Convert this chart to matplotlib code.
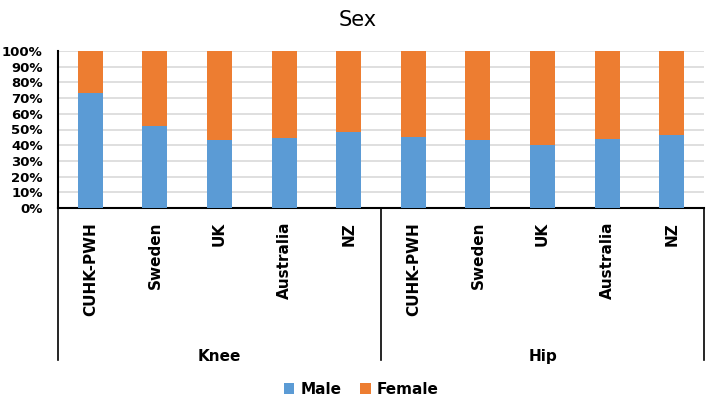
import numpy as np
import matplotlib.pyplot as plt
import matplotlib.transforms as mtransforms

# data
countries = ["CUHK-PWH", "Sweden", "UK", "Australia", "NZ",
             "CUHK-PWH", "Sweden", "UK", "Australia", "NZ"]
groups = ["Knee", "Hip"]
male = [73, 52, 43.5, 44.5, 48.5, 45, 43.5, 40, 44, 46.5]
female = [100 - m for m in male]

blue = "#5b9bd5"
orange = "#ed7d31"

fig = plt.figure(figsize=(7.08, 3.97), dpi=100)
ax = fig.add_axes([58 / 708, 1 - 208 / 397, (704 - 58) / 708, 157 / 397])

x = np.arange(len(countries))
ax.bar(x, male, width=0.39, color=blue, label="Male", zorder=3)
ax.bar(x, female, width=0.39, bottom=male, color=orange, label="Female", zorder=3)

ax.set_xlim(-0.5, len(countries) - 0.5)
ax.set_ylim(0, 100)
ax.set_yticks(np.arange(0, 101, 10))
ax.set_yticklabels([f"{v}%" for v in range(0, 101, 10)], fontsize=9.5, fontweight="bold")
ax.yaxis.grid(True, color="#d9d9d9", linewidth=1.2, zorder=0)
ax.tick_params(axis="y", length=0, pad=11)

ax.set_xticks(x)
ax.set_xticklabels(countries, rotation=90, fontsize=11, fontweight="bold", va="top")
ax.tick_params(axis="x", length=0, pad=10)

for s in ["top", "right"]:
    ax.spines[s].set_visible(False)
ax.spines["left"].set_color("black")
ax.spines["left"].set_linewidth(1.5)
ax.spines["bottom"].set_color("black")
ax.spines["bottom"].set_linewidth(1.5)

# group separators below the axis
trans = mtransforms.blended_transform_factory(ax.transData, ax.transAxes)
for xs in [-0.5, 4.5, 9.5]:
    ax.plot([xs, xs], [0, -0.968], color="black", linewidth=1.2,
            transform=trans, clip_on=False)
for i, g in enumerate(groups):
    ax.text(2 + 5 * i, -0.949, g, transform=trans, ha="center", va="center",
            fontsize=11, fontweight="bold")

fig.suptitle("Sex", x=0.505, y=0.975, fontsize=15)

ax.legend(loc="center", bbox_to_anchor=(0.51, 0.02), bbox_transform=fig.transFigure,
          ncol=2, frameon=False, handlelength=0.7, handleheight=0.7,
          columnspacing=1.2, handletextpad=0.4,
          prop={"size": 11, "weight": "bold"})

fig.savefig("out.png", dpi=100)
